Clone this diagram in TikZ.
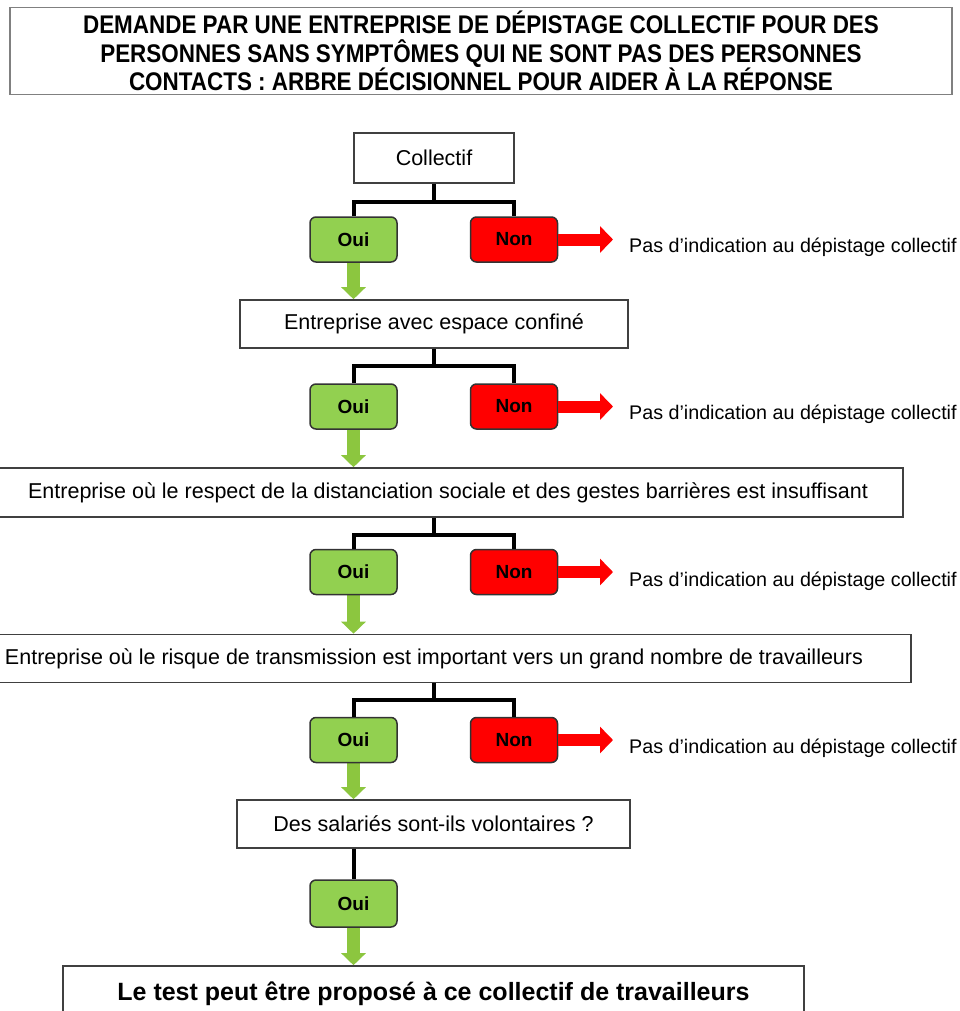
\documentclass[tikz,border=0pt]{standalone}
\usepackage{fontspec}
\setmainfont{Liberation Sans}
\newfontfamily\titlefont[FakeStretch=0.88]{Liberation Sans}
\usepackage{xcolor}
\usetikzlibrary{arrows.meta, positioning, backgrounds}

\definecolor{ouigreen}{HTML}{92D050}
\definecolor{arrowgreen}{HTML}{8CC63F}
\definecolor{nonred}{HTML}{FF0000}
\definecolor{boxgray}{HTML}{404040}

\tikzset{
  question/.style={draw=boxgray, line width=1.6pt, fill=white, rectangle, minimum height=48pt, inner sep=0pt, font=\fontsize{21.5}{24}\selectfont},
  answer/.style={draw=black!80, line width=1.5pt, rounded corners=6pt, minimum width=87pt, minimum height=45pt, inner sep=0pt, font=\bfseries\fontsize{19}{20}\selectfont},
  oui/.style={answer, fill=ouigreen},
  non/.style={answer, fill=nonred},
  branch/.style={line width=4pt, line join=miter},
  yesarrow/.style={arrowgreen, line width=13pt, -{Triangle[width=24pt, length=12pt]}},
  noarrow/.style={nonred, line width=12pt, -{Triangle[width=26pt, length=13pt]}},
  verdict/.style={anchor=base west, inner sep=0pt, font=\fontsize{19.7}{22}\selectfont},
}

\begin{document}
\begin{tikzpicture}[x=1pt, y=-1pt]
        \useasboundingbox (0,0) rectangle (960,1011);
        \clip (0,0) rectangle (960,1011);

        % Title
        \node[draw=gray, line width=1.3pt, rectangle, minimum width=942pt, minimum height=86pt, align=center, font=\titlefont\bfseries\fontsize{25.5}{28.5}\selectfont] (title) at (481,51) {
            DEMANDE PAR UNE ENTREPRISE DE DÉPISTAGE COLLECTIF POUR DES\\
            PERSONNES SANS SYMPTÔMES QUI NE SONT PAS DES PERSONNES\\
            CONTACTS : ARBRE DÉCISIONNEL POUR AIDER À LA RÉPONSE
        };

        % Collectif
        \node[question, minimum width=160pt, minimum height=50pt] (collectif) at (434,158) {Collectif};
        \node[oui] (oui1) at (353.5,239.5) {Oui};
        \node[non, right=72pt of oui1] (non1) {Non};
        \node[verdict] (pas1) at (629,252) {Pas d’indication au dépistage collectif};

        % Espace confine
        \node[question, minimum width=388pt] (espace) at (434,324) {Entreprise avec espace confiné};
        \node[oui] (oui2) at (353.5,406.5) {Oui};
        \node[non, right=72pt of oui2] (non2) {Non};
        \node[verdict] (pas2) at (629,419) {Pas d’indication au dépistage collectif};

        % Distanciation
        \node[question, minimum width=910pt, minimum height=49pt] (distance) at (448,492.5) {Entreprise où le respect de la distanciation sociale et des gestes barrières est insuffisant};
        \node[oui] (oui3) at (353.5,572) {Oui};
        \node[non, right=72pt of oui3] (non3) {Non};
        \node[verdict] (pas3) at (629,586) {Pas d’indication au dépistage collectif};

        % Transmission
        \node[question, minimum width=954pt] (risque) at (434,658.5) {Entreprise où le risque de transmission est important vers un grand nombre de travailleurs};
        \node[oui] (oui4) at (353.5,740) {Oui};
        \node[non, right=72pt of oui4] (non4) {Non};
        \node[verdict] (pas4) at (629,753) {Pas d’indication au dépistage collectif};

        % Volontaires
        \node[question, minimum width=393pt] (volontaires) at (433.5,824) {Des salariés sont-ils volontaires ?};
        \node[oui, minimum height=47pt] (oui5) at (353.5,903.5) {Oui};

        % Conclusion
        \node[question, minimum width=741pt, minimum height=56pt, font=\bfseries\fontsize{25}{28}\selectfont] (test) at (433.5,994) {Le test peut être proposé à ce collectif de travailleurs};

        % Branches
        \draw[branch] (collectif.south) -- ++(0,18) coordinate (j1);
        \draw[branch] (oui1.north) |- (j1) -| (non1.north);
        \draw[branch] (espace.south) -- ++(0,17) coordinate (j2);
        \draw[branch] (oui2.north) |- (j2) -| (non2.north);
        \draw[branch] (distance.south -| espace.south) -- ++(0,17) coordinate (j3);
        \draw[branch] (oui3.north) |- (j3) -| (non3.north);
        \draw[branch] (risque.south) -- ++(0,17) coordinate (j4);
        \draw[branch] (oui4.north) |- (j4) -| (non4.north);
        \draw[branch] (volontaires.south -| oui5.north) -- (oui5.north);

        % Arrows
        \begin{scope}[on background layer]
            \draw[yesarrow] (oui1.south) -- (oui1.south |- espace.north);
            \draw[yesarrow] (oui2.south) -- (oui2.south |- distance.north);
            \draw[yesarrow] (oui3.south) -- (oui3.south |- risque.north);
            \draw[yesarrow] (oui4.south) -- (oui4.south |- volontaires.north);
            \draw[yesarrow] (oui5.south) -- (oui5.south |- test.north);
        \end{scope}
        \draw[noarrow] (non1.east) -- ([xshift=-16pt]pas1.west |- non1.east);
        \draw[noarrow] (non2.east) -- ([xshift=-16pt]pas2.west |- non2.east);
        \draw[noarrow] (non3.east) -- ([xshift=-16pt]pas3.west |- non3.east);
        \draw[noarrow] (non4.east) -- ([xshift=-16pt]pas4.west |- non4.east);
    \end{tikzpicture}
\end{document}
